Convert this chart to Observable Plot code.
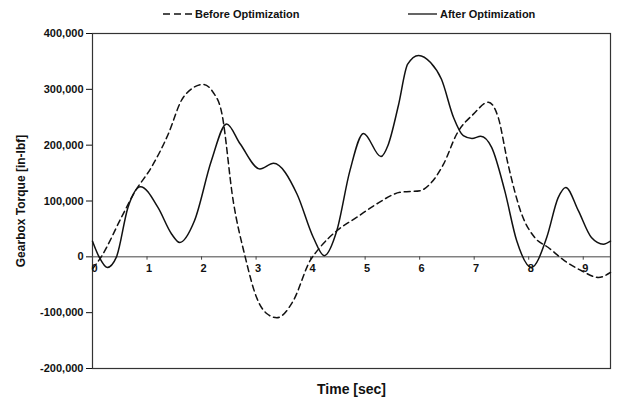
<!DOCTYPE html>
<html><head><meta charset="utf-8">
<script src="https://cdn.jsdelivr.net/npm/d3@7"></script>
<script src="https://cdn.jsdelivr.net/npm/@observablehq/plot@0.6"></script>
<style>
body{margin:0;background:#fff;}
#wrap{position:relative;width:617px;height:400px;font-family:"Liberation Sans",Arial,sans-serif;}
.leg{position:absolute;top:8px;font-weight:bold;font-size:11px;display:flex;align-items:center;gap:3px;color:#111;white-space:nowrap;}
#chart{position:absolute;left:0;top:0;}
</style></head>
<body><div id="wrap"><div id="chart"></div>
<div class="leg" style="left:163px"><svg width="29" height="4"><line x1="0" y1="2" x2="29" y2="2" stroke="#111" stroke-width="1.6" stroke-dasharray="7,4"/></svg><span id="l0"></span></div>
<div class="leg" style="left:408px"><svg width="29" height="4"><line x1="0" y1="2" x2="29" y2="2" stroke="#111" stroke-width="1.3"/></svg><span id="l1"></span></div>
</div>
<script>
const seriesNames = ["Before Optimization", "After Optimization"];
const beforeTime = [0, 0.16, 0.53, 0.77, 1.08, 1.39, 1.63, 1.85, 2.03, 2.21, 2.37, 2.58, 2.80, 3.01, 3.2, 3.38, 3.68, 3.99, 4.17, 4.48, 4.85, 5.21, 5.64, 6.01, 6.19, 6.44, 6.68, 6.99, 7.26, 7.44, 7.62, 7.87, 8.11, 8.36, 8.66, 8.97, 9.28, 9.5];
const beforeTorque = [-21500, 0, 70600, 115500, 160300, 220000, 280000, 303000, 308800, 295000, 258000, 100500, 0, -73000, -102000, -109000, -79000, -7000, 16700, 46700, 71000, 94600, 115500, 118500, 130500, 166400, 220000, 256000, 277000, 250000, 166400, 76700, 34600, 16700, -7200, -25000, -37000, -28000];
const afterTime = [0, 0.12, 0.27, 0.44, 0.65, 0.88, 1.2, 1.45, 1.6, 1.87, 2.18, 2.46, 2.71, 3.07, 3.32, 3.75, 4.05, 4.25, 4.48, 4.72, 4.97, 5.29, 5.42, 5.61, 5.78, 5.98, 6.2, 6.4, 6.62, 6.8, 6.96, 7.12, 7.32, 7.56, 7.78, 8.05, 8.33, 8.54, 8.68, 8.91, 9.15, 9.37, 9.5];
const afterTorque = [28000, 0, -19000, 0, 88500, 125700, 88500, 41000, 25700, 64600, 172000, 238000, 202000, 157400, 167500, 112500, 34600, 2000, 46700, 154000, 221000, 179500, 200000, 271000, 345000, 360800, 348000, 318000, 250000, 217000, 212000, 216000, 196000, 118500, 28700, -19000, 34600, 106000, 124400, 82600, 34600, 22700, 28000];
const xTicks = [0, 1, 2, 3, 4, 5, 6, 7, 8, 9];
const yTicks = [-200000, -100000, 0, 100000, 200000, 300000, 400000];
const xLabel = "Time [sec]";
const yLabel = "Gearbox Torque [in-lbf]";

document.getElementById("l0").textContent = seriesNames[0];
document.getElementById("l1").textContent = seriesNames[1];

const before = beforeTime.map((t, i) => ({t, v: beforeTorque[i]}));
const after = afterTime.map((t, i) => ({t, v: afterTorque[i]}));

const chart = Plot.plot({
  width: 617, height: 400,
  marginLeft: 92, marginRight: 7, marginTop: 33, marginBottom: 32,
  style: {fontFamily: '"Liberation Sans",Arial,sans-serif', fontWeight: "bold", fontSize: "11px", color: "#111", background: "white"},
  x: {domain: [0, 9.5]},
  y: {domain: [-200000, 400000]},
  marks: [
    Plot.frame({stroke: "#333", strokeWidth: 1.2}),
    Plot.ruleY([0], {stroke: "#444", strokeWidth: 1}),
    Plot.ruleX(xTicks, {x: d => d, y1: 0, y2: -6000, stroke: "#444"}),
    Plot.text(xTicks, {x: d => d, y: 0, dy: 12, dx: 2, text: d => String(d), fontSize: 11, fill: "#111"}),
    Plot.line(before, {x: "t", y: "v", curve: "monotone-x", stroke: "#111", strokeWidth: 1.5, strokeDasharray: "6,4"}),
    Plot.line(after, {x: "t", y: "v", curve: "monotone-x", stroke: "#111", strokeWidth: 1.5}),
    Plot.axisY({ticks: yTicks, tickFormat: d => d.toLocaleString("en-US"), tickSize: 6, tickPadding: 3, fontSize: 11, label: null}),
    Plot.axisY({ticks: [], tickSize: 0, label: yLabel, labelAnchor: "center", labelOffset: 76, labelArrow: "none", fontSize: 12}),
    Plot.axisX({ticks: [], tickSize: 0, label: xLabel, labelAnchor: "center", labelOffset: 25, labelArrow: "none", fontSize: 14})
  ]
});
document.getElementById("chart").appendChild(chart);
</script>
</body></html>
